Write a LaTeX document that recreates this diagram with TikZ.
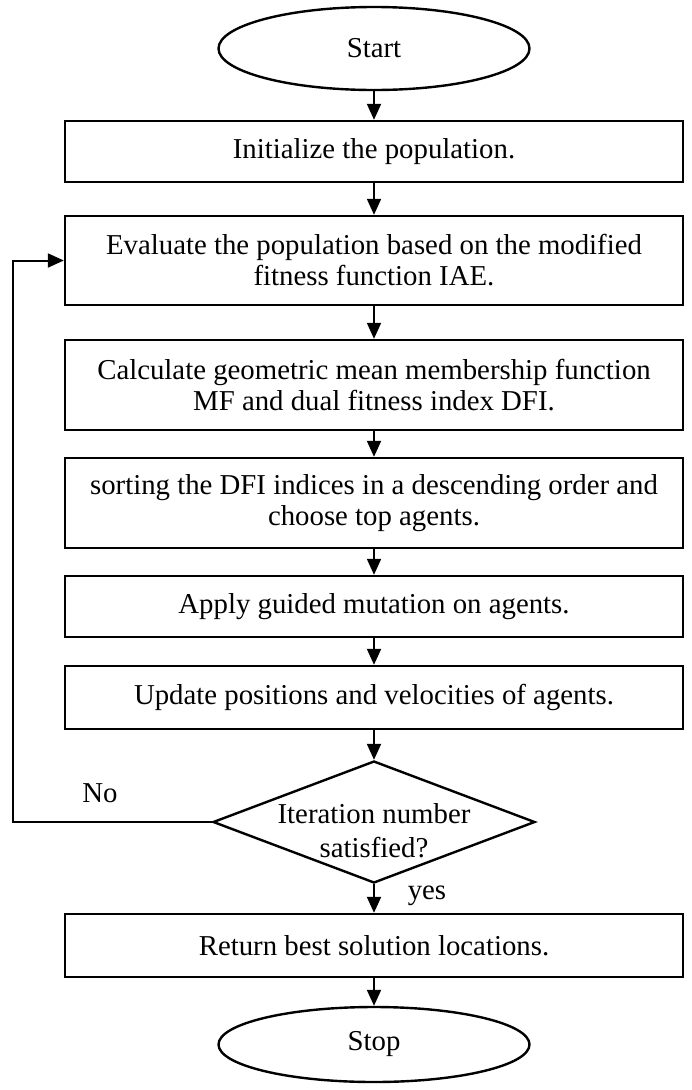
\documentclass[tikz,border=0pt]{standalone}
\usepackage{fontspec}
\setmainfont{Liberation Serif}
\usetikzlibrary{shapes.geometric,arrows.meta}
\begin{document}
\begin{tikzpicture}[x=1pt,y=-1pt,
  every node/.style={font=\fontsize{28.8}{31}\selectfont},
  procbox/.style={draw,line width=2.4pt,rectangle,minimum width=618pt,inner sep=0pt,align=center},
  term/.style={draw,line width=2.4pt,ellipse,minimum width=311pt,minimum height=83pt,inner sep=0pt},
  decbox/.style={draw,line width=2.4pt,diamond,minimum width=322pt,minimum height=122pt,inner sep=0pt},
  conn/.style={line width=2pt,-{Triangle[length=16pt,width=14pt]}}
]
\useasboundingbox[fill=white] (0,0) rectangle (691,1090);
\node[term] (start) at (374,48.5) {Start};
\node[procbox,minimum height=61pt] (b1) at (374,151.5) {Initialize the population.};
\node[procbox,minimum height=89pt] (b2) at (374,260.5) {Evaluate the population based on the modified\\fitness function IAE.};
\node[procbox,minimum height=90pt] (b3) at (374,385) {Calculate geometric mean membership function\\MF and dual fitness index DFI.};
\node[procbox,minimum height=90pt] (b4) at (374,503) {sorting the DFI indices in a descending order and\\choose top agents.};
\node[procbox,minimum height=61pt] (b5) at (374,606.5) {Apply guided mutation on agents.};
\node[procbox,minimum height=63pt] (b6) at (374,697.5) {Update positions and velocities of agents.};
\node[decbox] (dec) at (374,822) {};
\node[align=center,font=\fontsize{28.8}{34}\selectfont] (dectext) at (374,831) {Iteration number\\satisfied?};
\node[procbox,minimum height=63pt] (b7) at (374,945.5) {Return best solution locations.};
\node[term,minimum height=75pt] (stop) at (374,1044.5) {Stop};
\node (no) at (100,793) {No};
\node (yes) at (427,896) {yes};
\coordinate (lp) at (13,822);
\draw[conn] (start) -- (b1);
\draw[conn] (b1) -- (b2);
\draw[conn] (b2) -- (b3);
\draw[conn] (b3) -- (b4);
\draw[conn] (b4) -- (b5);
\draw[conn] (b5) -- (b6);
\draw[conn] (b6) -- (dec.north);
\draw[conn] (dec.south) -- (b7);
\draw[conn] (b7) -- (stop);
\draw[conn] (dec.west) -- (lp) |- (b2.west);
\end{tikzpicture}
\end{document}
